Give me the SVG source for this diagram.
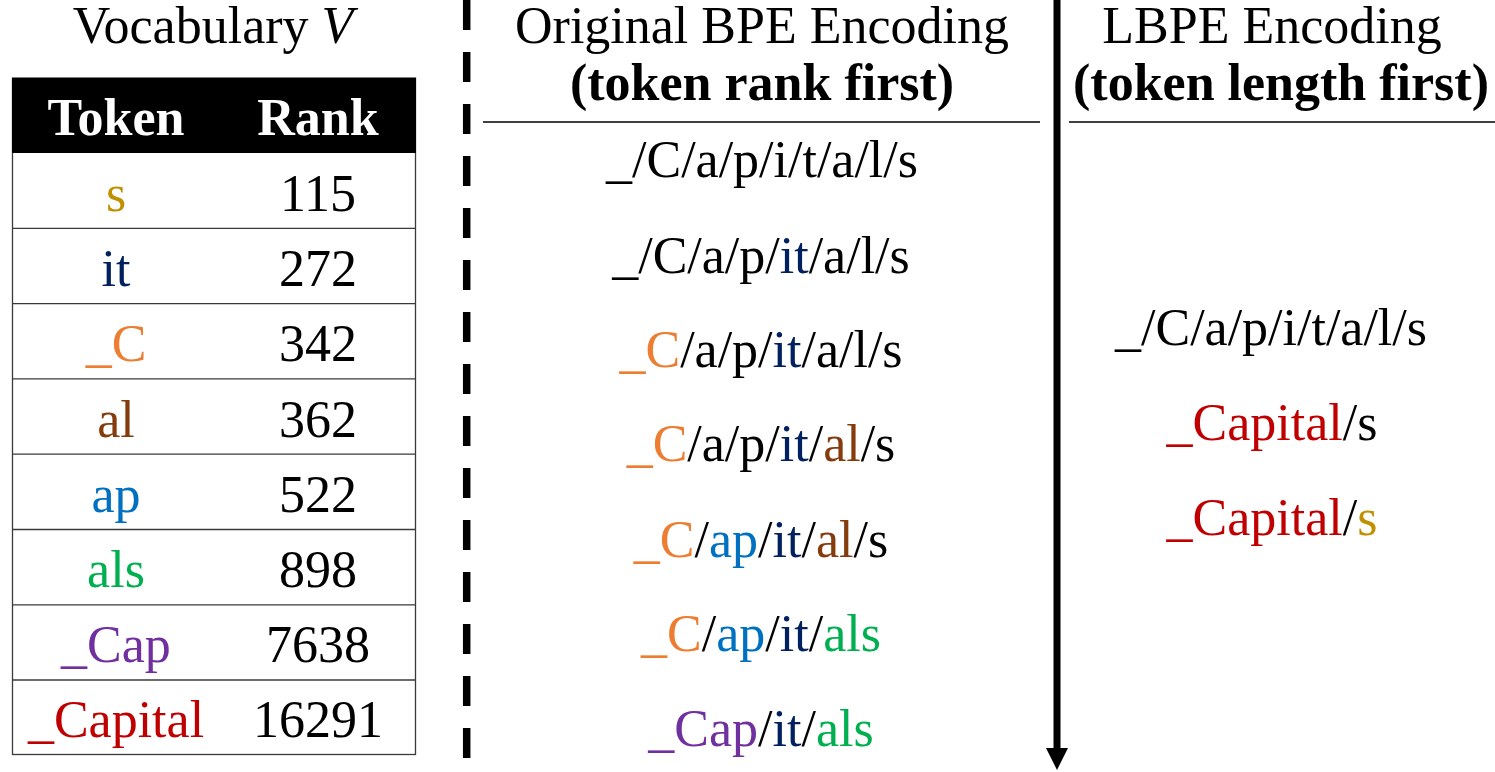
<svg xmlns="http://www.w3.org/2000/svg" width="1495" height="772" viewBox="0 0 1495 772">
<style>
text{font-family:"Liberation Serif","Times New Roman",serif;font-size:52px;fill:#000;text-anchor:middle}
.b{font-weight:bold}
.w{fill:#fff}
.cs{fill:#BF9000}.cit{fill:#002060}.cC{fill:#ED7D31}.cal{fill:#843C0C}.cap{fill:#0070C0}.cals{fill:#00B050}.cCap{fill:#7030A0}.cCapital{fill:#C00000}
.rowline{stroke:#3a3a3a;stroke-width:1.3}
</style>
<rect width="1495" height="772" fill="#fff"/>
<g id="vocab-title"><text x="213" y="43">Vocabulary <tspan font-style="italic">V</tspan></text></g>
<g id="vocab-table">
<rect x="12.5" y="78" width="403" height="676.5" fill="#fff" stroke="#3a3a3a" stroke-width="1.3"/>
<rect x="12" y="78" width="404" height="75" fill="#000"/>
<text class="b w" x="116" y="135">Token</text>
<text class="b w" x="318" y="135">Rank</text>
<line class="rowline" x1="12" y1="228.3" x2="416" y2="228.3"/>
<line class="rowline" x1="12" y1="303.6" x2="416" y2="303.6"/>
<line class="rowline" x1="12" y1="378.9" x2="416" y2="378.9"/>
<line class="rowline" x1="12" y1="454.2" x2="416" y2="454.2"/>
<line class="rowline" x1="12" y1="529.5" x2="416" y2="529.5"/>
<line class="rowline" x1="12" y1="604.8" x2="416" y2="604.8"/>
<line class="rowline" x1="12" y1="680" x2="416" y2="680"/>
<text class="cs" x="116" y="211">s</text><text x="318" y="211">115</text>
<text class="cit" x="116" y="286">it</text><text x="318" y="286">272</text>
<text class="cC" x="116" y="361">_C</text><text x="318" y="361">342</text>
<text class="cal" x="116" y="437">al</text><text x="318" y="437">362</text>
<text class="cap" x="116" y="512">ap</text><text x="318" y="512">522</text>
<text class="cals" x="116" y="587">als</text><text x="318" y="587">898</text>
<text class="cCap" x="116" y="662">_Cap</text><text x="318" y="662">7638</text>
<text class="cCapital" x="116" y="737">_Capital</text><text x="318" y="737">16291</text>
</g>
<g id="bpe-header">
<text x="762" y="43">Original BPE Encoding</text>
<text class="b" x="762" y="100">(token rank first)</text>
<line x1="483" y1="122" x2="1040" y2="122" stroke="#000" stroke-width="1.3"/>
</g>
<g id="bpe-steps">
<text x="762" y="177">_/C/a/p/i/t/a/l/s</text>
<text x="761" y="273">_/C/a/p/<tspan class="cit">it</tspan>/a/l/s</text>
<text x="761" y="367"><tspan class="cC">_C</tspan>/a/p/<tspan class="cit">it</tspan>/a/l/s</text>
<text x="761" y="461"><tspan class="cC">_C</tspan>/a/p/<tspan class="cit">it</tspan>/<tspan class="cal">al</tspan>/s</text>
<text x="761" y="557"><tspan class="cC">_C</tspan>/<tspan class="cap">ap</tspan>/<tspan class="cit">it</tspan>/<tspan class="cal">al</tspan>/s</text>
<text x="761" y="651"><tspan class="cC">_C</tspan>/<tspan class="cap">ap</tspan>/<tspan class="cit">it</tspan>/<tspan class="cals">als</tspan></text>
<text x="761" y="746"><tspan class="cCap">_Cap</tspan>/<tspan class="cit">it</tspan>/<tspan class="cals">als</tspan></text>
</g>
<g id="lbpe-header">
<text x="1272" y="43">LBPE Encoding</text>
<text class="b" x="1281" y="100">(token length first)</text>
<line x1="1069" y1="122" x2="1495" y2="122" stroke="#000" stroke-width="1.3"/>
</g>
<g id="lbpe-steps">
<text x="1271" y="345">_/C/a/p/i/t/a/l/s</text>
<text x="1272" y="440"><tspan class="cCapital">_Capital</tspan>/s</text>
<text x="1272" y="535"><tspan class="cCapital">_Capital</tspan>/<tspan class="cs">s</tspan></text>
</g>
<g id="connectors">
<line x1="466.7" y1="0" x2="466.7" y2="760" stroke="#000" stroke-width="7.5" stroke-dasharray="30 22"/>
<line x1="1057" y1="0" x2="1057" y2="750" stroke="#000" stroke-width="7"/>
<polygon points="1046,748 1068,748 1057,770" fill="#000"/>
</g>
</svg>
